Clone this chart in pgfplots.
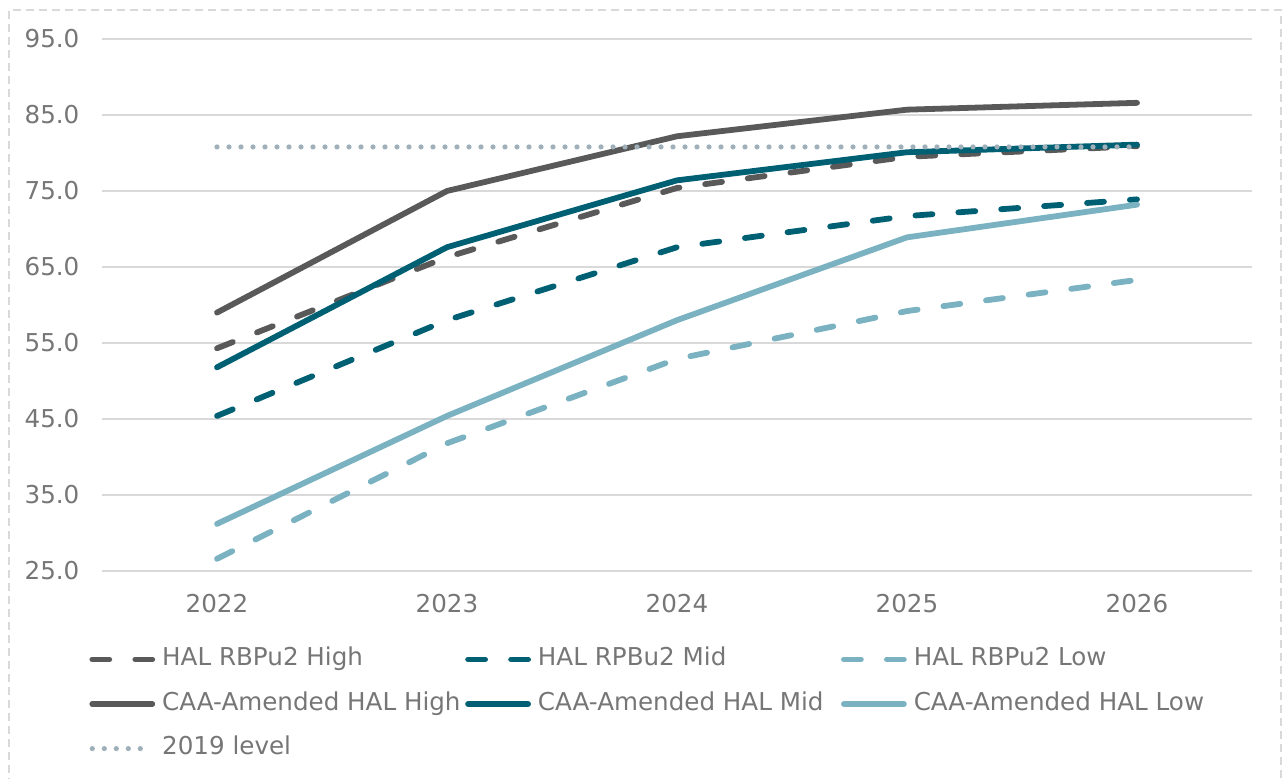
\documentclass[border=0pt]{standalone}
\usepackage{pgfplots}
\pgfplotsset{compat=1.18}
\usepackage{fontspec}
\setmainfont{DejaVu Sans}

\definecolor{hiGray}{RGB}{89,89,89}
\definecolor{midTeal}{RGB}{0,96,115}
\definecolor{lowTeal}{RGB}{122,178,193}
\definecolor{refGray}{RGB}{160,176,186}
\definecolor{gridGray}{RGB}{217,217,217}
\definecolor{labelGray}{RGB}{118,118,118}

% series values, 2022-2026
\pgfplotstableread{
x  rbHigh rbMid rbLow caaHigh caaMid caaLow lvl
0  54.3   45.4  26.6  59.0    51.8   31.2   80.8
1  66.3   58.0  41.8  75.0    67.6   45.4   80.8
2  75.4   67.6  52.9  82.2    76.4   58.0   80.8
3  79.5   71.7  59.2  85.7    80.1   68.9   80.8
4  80.9   73.9  63.3  86.6    81.1   73.2   80.8
}\datatable

\newcommand{\legtext}[1]{\hspace{3.5pt}\makebox[151.5pt][l]{#1}}
\newcommand{\chartfont}{\fontsize{12.3}{14.8}\selectfont}

\begin{document}
\chartfont
\begin{tikzpicture}
\useasboundingbox (0,0) rectangle (643pt,389.5pt);
\draw[gridGray, line width=0.6pt, dash pattern=on 4pt off 2.5pt]
  (4.5pt,-10pt) -- (4.5pt,384.5pt) -- (640.5pt,384.5pt) -- (640.5pt,-10pt);
\begin{axis}[
  at={(51pt,104pt)}, anchor=south west,
  scale only axis, width=575pt, height=266pt,
  xmin=-0.5, xmax=4.5, ymin=25, ymax=95,
  xtick={0,1,2,3,4}, xticklabels={2022,2023,2024,2025,2026},
  ytick={25,35,45,55,65,75,85,95},
  ymajorgrids, grid style={gridGray, line width=1pt},
  axis line style={draw=none},
  major tick length=0pt,
  tick label style={font=\chartfont, text=labelGray},
  /pgf/number format/fixed,
  /pgf/number format/fixed zerofill,
  /pgf/number format/precision=1,
  /pgf/number format/assume math mode=true,
  yticklabel style={xshift=-7pt},
  xticklabel style={yshift=-7.4pt},
  clip=false,
  legend columns=3,
  legend cell align=left,
  legend style={at={(rel axis cs:-0.0113,-0.1429)}, anchor=north west,
    draw=none, fill=none, inner sep=0pt, column sep=0pt, row sep=10.3pt,
    font=\chartfont, text=labelGray,
    nodes={inner sep=0pt, text height=9pt, text depth=3pt}},
  legend image code/.code={\draw[#1] (0pt,0pt) -- (30pt,0pt);},
  every axis plot/.append style={line cap=round, line join=round},
]
\addplot[hiGray, line width=2.9pt, dash pattern=on 8.5pt off 13pt] table[x=x, y=rbHigh] {\datatable};
\addlegendentry{\legtext{HAL RBPu2 High}}
\addplot[midTeal, line width=2.9pt, dash pattern=on 8.5pt off 13pt] table[x=x, y=rbMid] {\datatable};
\addlegendentry{\legtext{HAL RPBu2 Mid}}
\addplot[lowTeal, line width=2.9pt, dash pattern=on 8.5pt off 13pt] table[x=x, y=rbLow] {\datatable};
\addlegendentry{\legtext{HAL RBPu2 Low}}
\addplot[hiGray, line width=2.9pt] table[x=x, y=caaHigh] {\datatable};
\addlegendentry{\legtext{CAA-Amended HAL High}}
\addplot[midTeal, line width=2.9pt] table[x=x, y=caaMid] {\datatable};
\addlegendentry{\legtext{CAA-Amended HAL Mid}}
\addplot[lowTeal, line width=2.9pt] table[x=x, y=caaLow] {\datatable};
\addlegendentry{\legtext{CAA-Amended HAL Low}}
\addplot[refGray, line width=2.6pt, dash pattern=on 0pt off 6pt] table[x=x, y=lvl] {\datatable};
\addlegendentry{\legtext{2019 level}}
\end{axis}
\end{tikzpicture}
\end{document}
